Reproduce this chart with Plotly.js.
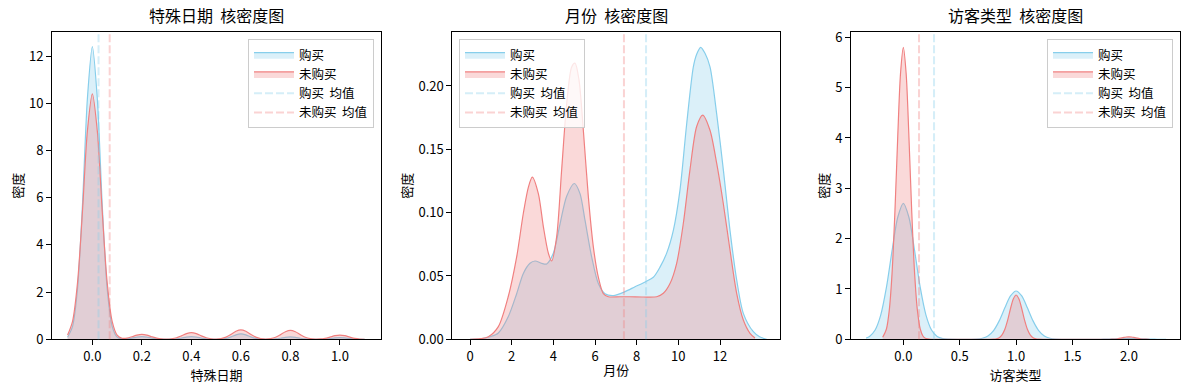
<!DOCTYPE html>
<html>
<head>
<meta charset="utf-8">
<script src="https://cdn.plot.ly/plotly-3.0.1.min.js"></script>
<style>html,body{margin:0;padding:0;background:#fff;}</style>
</head>
<body>
<div id="chart" style="width:1189px;height:390px;"></div>
<script>
// ---------- data ----------
const seriesNames = ['购买', '未购买'];
const meanNames = ['购买  均值', '未购买  均值'];
const panelTitles = ['特殊日期  核密度图', '月份  核密度图', '访客类型  核密度图'];
const xLabels = ['特殊日期', '月份', '访客类型'];
const yLabel = '密度';

// Panel 1: 特殊日期
const special_x = [-0.1,-0.08,-0.06,-0.04,-0.02,0,0.02,0.04,0.06,0.08,0.1,0.12,0.14,0.16,0.18,0.2,0.22,0.24,0.26,0.28,0.3,0.32,0.34,0.36,0.38,0.4,0.42,0.44,0.46,0.48,0.5,0.52,0.54,0.56,0.58,0.6,0.62,0.64,0.66,0.68,0.7,0.72,0.74,0.76,0.78,0.8,0.82,0.84,0.86,0.88,0.9,0.92,0.94,0.96,0.98,1.0,1.02,1.04,1.06,1.08,1.1];
const special_buy = [0.09,0.55,2.13,5.68,10.2,12.4,10.2,5.68,2.13,0.55,0.095,0.017,0.019,0.050,0.091,0.11,0.091,0.050,0.019,0.0048,0.0017,0.0048,0.019,0.050,0.091,0.11,0.091,0.050,0.019,0.005,0.0026,0.010,0.040,0.105,0.189,0.23,0.189,0.105,0.040,0.010,0.0025,0.0044,0.0172,0.0458,0.0823,0.10,0.0823,0.0458,0.0172,0.0045,0.0013,0.0031,0.012,0.032,0.058,0.07,0.058,0.032,0.012,0.0031,0.0005];
const special_nobuy = [0.18,0.76,2.39,5.41,8.83,10.4,8.83,5.41,2.39,0.76,0.18,0.045,0.05,0.109,0.178,0.21,0.178,0.109,0.048,0.016,0.0084,0.021,0.064,0.146,0.238,0.28,0.238,0.146,0.064,0.022,0.0116,0.030,0.092,0.208,0.34,0.40,0.34,0.208,0.092,0.030,0.013,0.029,0.087,0.198,0.323,0.38,0.323,0.198,0.087,0.028,0.0095,0.014,0.041,0.094,0.153,0.18,0.153,0.094,0.041,0.013,0.003];
const special_means = [0.025, 0.07];

// Panel 2: 月份
const month_buy_x = [0.0,0.5,0.96,1.36,1.84,2.24,2.56,2.88,3.12,3.44,3.68,4.0,4.32,4.64,5.01,5.28,5.52,5.84,6.16,6.48,6.88,7.44,7.92,8.43,8.8,9.12,9.44,9.76,10.08,10.4,10.72,10.88,11.07,11.28,11.52,11.84,12.16,12.48,12.8,13.12,13.6,13.9,14.24];
const month_buy = [0,0.0003,0.002,0.005,0.018,0.036,0.052,0.060,0.0618,0.060,0.0595,0.068,0.091,0.113,0.123,0.115,0.094,0.065,0.044,0.036,0.0345,0.0376,0.0415,0.0455,0.049,0.057,0.068,0.086,0.118,0.170,0.215,0.225,0.2305,0.2258,0.215,0.178,0.134,0.086,0.047,0.0205,0.006,0.002,0];
const month_nobuy_x = [0.0,0.5,0.88,1.36,1.84,2.24,2.56,2.8,2.99,3.28,3.52,3.76,3.92,4.16,4.4,4.64,4.88,5.04,5.23,5.44,5.68,5.92,6.16,6.4,6.64,7.2,7.68,8.32,8.96,9.28,9.6,9.92,10.24,10.56,10.88,11.17,11.52,11.84,12.16,12.48,12.8,13.12,13.44,13.68];
const month_nobuy = [0,0.0005,0.002,0.010,0.034,0.065,0.0995,0.120,0.128,0.115,0.089,0.068,0.0618,0.081,0.134,0.186,0.215,0.218,0.205,0.165,0.1126,0.073,0.049,0.036,0.0336,0.0336,0.0336,0.0334,0.0336,0.0363,0.044,0.060,0.0916,0.134,0.168,0.177,0.165,0.139,0.107,0.0705,0.0363,0.0152,0.0047,0.001];
const month_means = [8.45, 7.39];

// Panel 3: 访客类型
const visitor_buy_x = [-0.33,-0.3,-0.25,-0.2,-0.15,-0.1,-0.05,0,0.05,0.1,0.15,0.2,0.25,0.3,0.35,0.4,0.5,0.6,0.65,0.7,0.75,0.8,0.85,0.9,0.95,1.0,1.05,1.1,1.15,1.2,1.25,1.3,1.35,1.4,1.5,1.6,1.7,1.75,1.8,1.85,1.9,1.95,2.0,2.05,2.1,2.15,2.2,2.25,2.33];
const visitor_buy = [0.025,0.057,0.185,0.486,1.03,1.76,2.42,2.70,2.42,1.76,1.03,0.486,0.185,0.057,0.014,0.0027,0.0001,0.001,0.005,0.020,0.066,0.173,0.366,0.625,0.862,0.96,0.862,0.625,0.366,0.173,0.066,0.020,0.005,0.001,0.0001,0,0.0004,0.0014,0.0036,0.0076,0.013,0.018,0.02,0.018,0.013,0.0076,0.0036,0.0014,0.0003];
const visitor_nobuy_x = [-0.183,-0.15,-0.125,-0.1,-0.075,-0.05,-0.025,0,0.025,0.05,0.075,0.1,0.125,0.15,0.175,0.2,0.25,0.4,0.6,0.75,0.8,0.825,0.85,0.875,0.9,0.925,0.95,0.975,1.0,1.025,1.05,1.075,1.1,1.125,1.15,1.175,1.2,1.25,1.4,1.6,1.75,1.8,1.825,1.85,1.875,1.9,1.925,1.95,1.975,2.0,2.025,2.05,2.075,2.1,2.125,2.15,2.183];
const visitor_nobuy = [0.040,0.205,0.57,1.31,2.51,4.00,5.28,5.80,5.28,4.00,2.51,1.31,0.57,0.205,0.061,0.015,0.0006,0,0,0.0001,0.0023,0.0093,0.031,0.086,0.199,0.381,0.607,0.80,0.88,0.80,0.607,0.381,0.199,0.086,0.031,0.0093,0.0023,0.0001,0,0,0,0.0001,0.0005,0.0018,0.0049,0.0113,0.0217,0.0345,0.0456,0.05,0.0456,0.0345,0.0217,0.0113,0.0049,0.0018,0.0003];
const visitor_means = [0.272, 0.139];

// ---------- styling ----------
const lineColors = ['#87CEEB', '#F08080'];
const fillColors = ['rgba(135,206,235,0.3)', 'rgba(240,128,128,0.3)'];
const meanColors = ['rgba(135,206,235,0.35)', 'rgba(240,128,128,0.35)'];
const FONT = '"Noto Sans CJK SC", "Noto Sans", sans-serif';

const panels = [
  {xs:[special_x, special_x], ys:[special_buy, special_nobuy], means:special_means,
   domain:[52/1189, 381/1189], xrange:[-0.163,1.166], yrange:[0,13.02],
   xtick:{tick0:0, dtick:0.2, tickformat:'.1f'}, ytick:{tick0:0, dtick:2},
   legend:'legend'},
  {xs:[month_buy_x, month_nobuy_x], ys:[month_buy, month_nobuy], means:month_means,
   domain:[452.3/1189, 780/1189], xrange:[-0.85,14.88], yrange:[0,0.2426],
   xtick:{tickvals:[0,2,4,6,8,10,12]}, ytick:{tick0:0, dtick:0.05, tickformat:'.2f'},
   legend:'legend2'},
  {xs:[visitor_buy_x, visitor_nobuy_x], ys:[visitor_buy, visitor_nobuy], means:visitor_means,
   domain:[851/1189, 1180/1189], xrange:[-0.464,2.453], yrange:[0,6.105],
   xtick:{tick0:0, dtick:0.5, tickformat:'.1f'}, ytick:{tick0:0, dtick:1},
   legend:'legend3'}
];

const traces = [];
const shapes = [];
const annotations = [];
const layout = {
  width: 1189, height: 390,
  margin: {l:0, r:0, t:0, b:0},
  paper_bgcolor: 'white', plot_bgcolor: 'white',
  font: {family: FONT, size: 13, color: 'black'},
  showlegend: true
};

const ydom = [1 - 339.3/390, 1 - 32/390];

panels.forEach((p, i) => {
  const n = i === 0 ? '' : String(i + 1);
  const xa = 'x' + n, ya = 'y' + n;
  for (let s = 0; s < 2; s++) {
    traces.push({
      type: 'scatter', mode: 'lines', x: p.xs[s], y: p.ys[s],
      xaxis: xa, yaxis: ya, name: seriesNames[s],
      fill: 'tozeroy', fillcolor: fillColors[s],
      line: {color: lineColors[s], width: 1.2, shape: 'spline', smoothing: 0.8},
      legend: p.legend, hoverinfo: 'skip'
    });
  }
  for (let s = 0; s < 2; s++) {
    traces.push({
      type: 'scatter', mode: 'lines', x: [null], y: [null],
      xaxis: xa, yaxis: ya, name: meanNames[s],
      line: {color: meanColors[s], width: 2, dash: '8px,3px'},
      legend: p.legend, hoverinfo: 'skip'
    });
    shapes.push({
      type: 'line', xref: xa, yref: ya + ' domain',
      x0: p.means[s], x1: p.means[s], y0: 0, y1: 1,
      line: {color: meanColors[s], width: 2, dash: '8px,3px'}, layer: 'above'
    });
  }
  const common = {
    showline: true, mirror: true, linecolor: 'black', linewidth: 1,
    ticks: 'outside', ticklen: 5, tickwidth: 1, tickcolor: 'black',
    showgrid: false, zeroline: false, fixedrange: true,
    tickfont: {family: FONT, size: 13, color: 'black'}
  };
  layout['xaxis' + n] = Object.assign({}, common, p.xtick, {
    domain: p.domain, range: p.xrange, anchor: ya,
    title: {text: xLabels[i], font: {family: FONT, size: 13}, standoff: 1}
  });
  layout['yaxis' + n] = Object.assign({}, common, p.ytick, {
    domain: ydom, range: p.yrange, anchor: xa,
    title: {text: yLabel, font: {family: FONT, size: 13}, standoff: 2}
  });
  annotations.push({
    text: panelTitles[i], xref: xa + ' domain', yref: ya + ' domain',
    x: 0.5, y: 1, xanchor: 'center', yanchor: 'bottom', yshift: 3,
    showarrow: false, font: {family: FONT, size: 16, color: 'black'}
  });
});

const legendCommon = {
  bgcolor: 'rgba(255,255,255,0.8)', bordercolor: '#cccccc', borderwidth: 1,
  font: {family: FONT, size: 12.5, color: 'black'}, yanchor: 'top', y: 1 - 39/390,
  traceorder: 'normal', itemwidth: 40
};
layout.legend = Object.assign({}, legendCommon, {x: 374/1189, xanchor: 'right'});
layout.legend2 = Object.assign({}, legendCommon, {x: 459/1189, xanchor: 'left'});
layout.legend3 = Object.assign({}, legendCommon, {x: 1173/1189, xanchor: 'right'});
layout.shapes = shapes;
layout.annotations = annotations;

Plotly.newPlot('chart', traces, layout, {displayModeBar: false, staticPlot: true});
</script>
</body>
</html>
